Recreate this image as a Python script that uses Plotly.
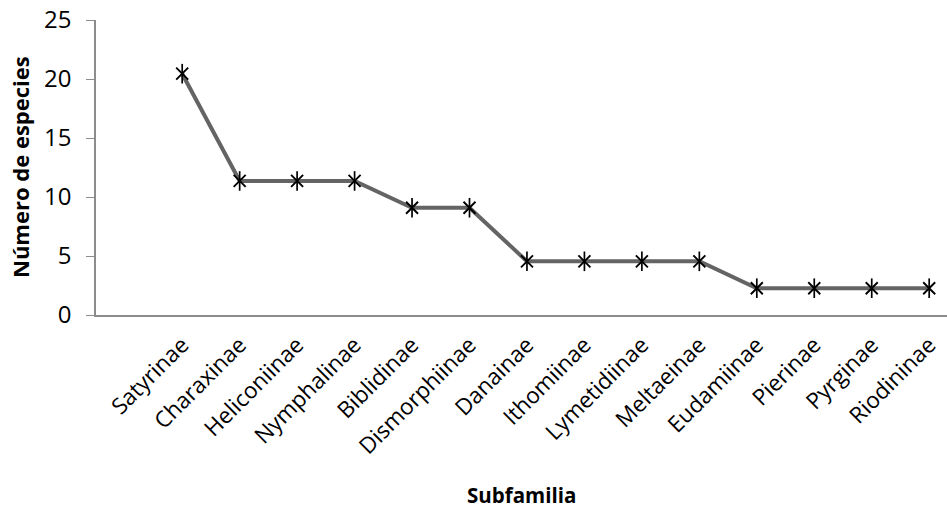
import plotly.graph_objects as go

subfamilias = ["Satyrinae", "Charaxinae", "Heliconiinae", "Nymphalinae", "Biblidinae",
               "Dismorphiinae", "Danainae", "Ithomiinae", "Lymetidiinae", "Meltaeinae",
               "Eudamiinae", "Pierinae", "Pyrginae", "Riodininae"]
especies = [20.45, 11.36, 11.36, 11.36, 9.09, 9.09, 4.55, 4.55, 4.55, 4.55,
            2.27, 2.27, 2.27, 2.27]
y_ticks = [0, 5, 10, 15, 20, 25]

xs = list(range(len(subfamilias)))
fig = go.Figure()
fig.add_trace(go.Scatter(
    x=xs, y=especies, mode="lines",
    line=dict(color="#646464", width=4), showlegend=False, hoverinfo="skip",
))
fig.add_trace(go.Scatter(
    x=xs, y=especies, mode="markers",
    marker=dict(symbol="x-thin-open", size=12, color="black",
                line=dict(color="black", width=1.9)),
    showlegend=False,
))
fig.add_trace(go.Scatter(
    x=xs, y=especies, mode="markers",
    marker=dict(symbol="line-ns-open", size=14, color="black",
                line=dict(color="black", width=1.7)),
    showlegend=False, hoverinfo="skip",
))

W, H = 947, 514
L, T, B = 96, 20, 199
font = "Open Sans, Noto Sans, sans-serif"
fig.update_layout(
    width=W, height=H,
    margin=dict(l=L, r=0, t=T, b=B),
    plot_bgcolor="white", paper_bgcolor="white",
    font=dict(family=font, color="black"),
    xaxis=dict(
        range=[-1.5, 13.31], tickmode="array",
        tickvals=xs, ticktext=subfamilias, automargin=False,
        tickangle=-45, tickfont=dict(size=22.5), showgrid=False, zeroline=False,
        showline=True, linecolor="#8c8c8c", linewidth=1.5, ticks="",
        ticklabelstandoff=6,
    ),
    yaxis=dict(
        range=[0, 25], tickvals=y_ticks, tickfont=dict(size=24), automargin=False,
        showgrid=False, zeroline=False, showline=True, linecolor="#8c8c8c",
        linewidth=1.5, ticks="outside", ticklen=8, tickcolor="#8c8c8c",
        ticklabelstandoff=10,
    ),
)
plot_w = W - L
plot_h = H - T - B
bottom_px = H - B  # px of the x axis
fig.add_annotation(text="<b>Subfamilia</b>", xref="paper", yref="paper",
                   x=0.5, y=(bottom_px - 495) / plot_h, showarrow=False,
                   font=dict(size=20.5), xanchor="center", yanchor="middle")
fig.add_annotation(text="<b>Número de especies</b>", xref="paper", yref="paper",
                   x=(20 - L) / plot_w, y=(bottom_px - 167) / plot_h, showarrow=False,
                   font=dict(size=22), textangle=-90, xanchor="center", yanchor="middle")
fig.write_html("out.html", config={"displayModeBar": False},
               post_script="document.body.style.margin='0';document.body.style.overflow='hidden';")
